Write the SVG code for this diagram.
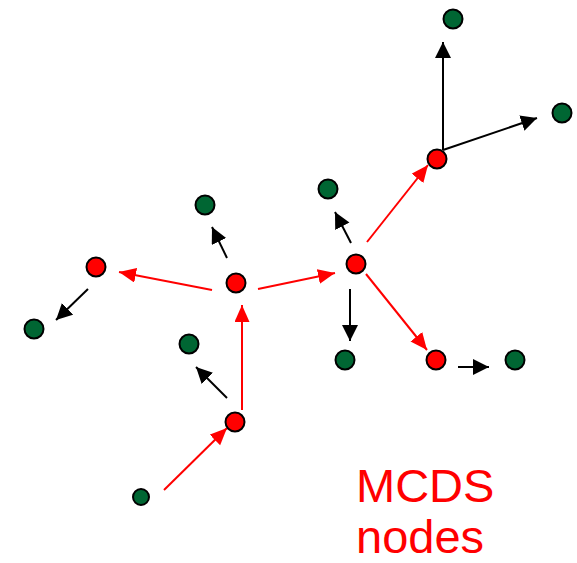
<svg xmlns="http://www.w3.org/2000/svg" width="577" height="563" viewBox="0 0 577 563">
<defs>
<marker id="ar" markerUnits="userSpaceOnUse" markerWidth="20" markerHeight="16" refX="17" refY="7.5" orient="auto"><path d="M0,0 L17,7.5 L0,15 Z" fill="#ff0000"/></marker>
<marker id="ab" markerUnits="userSpaceOnUse" markerWidth="20" markerHeight="18" refX="16" refY="8" orient="auto"><path d="M0,0 L16,8 L0,16 Z" fill="#000"/></marker>
<style>
.red{fill:#ff0000;stroke:#000;stroke-width:2}
.grn{fill:#006633;stroke:#000;stroke-width:2}
.er{stroke:#ff0000;stroke-width:2;fill:none;marker-end:url(#ar)}
.eb{stroke:#000;stroke-width:2;fill:none;marker-end:url(#ab)}
.lbl{font-family:"Liberation Sans",Arial,sans-serif;font-size:47px;fill:#ff0000}
</style>
</defs>
<rect width="577" height="563" fill="#fff"/>
<g id="connectors">
<line class="er" x1="212" y1="290" x2="119" y2="272"/>
<line class="er" x1="258" y1="289" x2="335" y2="273"/>
<line class="er" x1="242" y1="410" x2="242" y2="305"/>
<line class="er" x1="164" y1="490" x2="227" y2="428"/>
<line class="er" x1="367" y1="242" x2="428" y2="165"/>
<line class="er" x1="366" y1="274" x2="427" y2="350"/>
<line class="eb" x1="227" y1="258" x2="212" y2="227"/>
<line class="eb" x1="351" y1="243" x2="335" y2="212"/>
<line class="eb" x1="350" y1="289" x2="350" y2="341"/>
<line class="eb" x1="458" y1="367" x2="489" y2="367"/>
<line class="eb" x1="88" y1="289" x2="56" y2="320"/>
<line class="eb" x1="227" y1="398" x2="196" y2="367"/>
<line class="eb" x1="443" y1="150" x2="443" y2="42"/>
<line class="eb" x1="443" y1="150" x2="537" y2="118"/>
</g>
<g id="R1"><circle class="red" cx="96" cy="267" r="9.5"/></g>
<g id="R2"><circle class="red" cx="236" cy="283" r="9.5"/></g>
<g id="R3"><circle class="red" cx="356" cy="264" r="9.5"/></g>
<g id="R4"><circle class="red" cx="437" cy="159" r="9.5"/></g>
<g id="R5"><circle class="red" cx="436" cy="360" r="9.5"/></g>
<g id="R6"><circle class="red" cx="235" cy="422" r="9.5"/></g>
<g id="G1"><circle class="grn" cx="453" cy="19" r="9.5"/></g>
<g id="G2"><circle class="grn" cx="562" cy="113" r="9.5"/></g>
<g id="G3"><circle class="grn" cx="328" cy="189" r="9.5"/></g>
<g id="G4"><circle class="grn" cx="205" cy="205" r="9.5"/></g>
<g id="G5"><circle class="grn" cx="34" cy="329" r="9.5"/></g>
<g id="G6"><circle class="grn" cx="345" cy="360" r="9.5"/></g>
<g id="G7"><circle class="grn" cx="515" cy="360" r="9.5"/></g>
<g id="G8"><circle class="grn" cx="189" cy="344" r="9.5"/></g>
<g id="G9"><circle class="grn" cx="141" cy="497" r="8"/></g>
<g id="label">
<text class="lbl" x="356" y="502">MCDS</text>
<text class="lbl" x="356" y="553">nodes</text>
</g>
</svg>
